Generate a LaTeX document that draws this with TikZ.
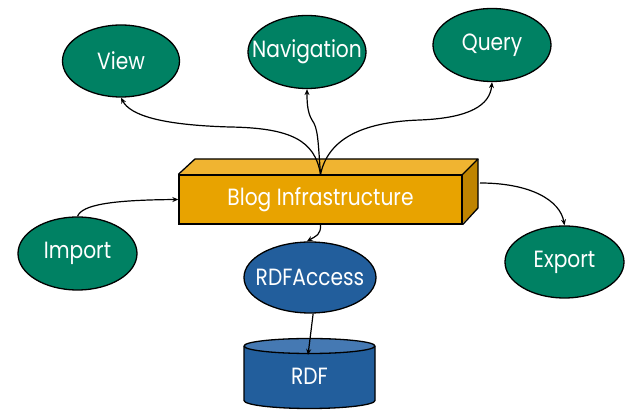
\documentclass[tikz,border=0pt]{standalone}
\usepackage{fontspec}
\setmainfont{Poppins}[FakeStretch=0.86]
\usetikzlibrary{shapes.geometric,arrows.meta}
\definecolor{ngreen}{HTML}{008163}
\definecolor{nblue}{HTML}{225E9C}
\definecolor{nbluetop}{HTML}{4579B3}
\definecolor{bfront}{HTML}{E8A300}
\definecolor{btop}{HTML}{F0B431}
\definecolor{bside}{HTML}{BF8400}
\newcommand{\zw}[1]{\makebox[0pt]{#1}}
\tikzset{
  lbl/.style={font=\fontsize{23.5}{26}\selectfont},
  comp/.style={ellipse, draw=black, line width=1.3pt, fill=ngreen, text=white,
    inner sep=0pt, lbl},
  acc/.style={comp, fill=nblue},
  conn/.style={-{Stealth[length=6pt,width=5pt]}, line width=1.2pt, black},
  edge3d/.style={draw=black, line width=1.3pt, line join=round}
}
\begin{document}
\begin{tikzpicture}[x=1pt,y=-1pt]
\useasboundingbox (0,0) rectangle (641,419);
% components
\node[comp, minimum width=117pt, minimum height=72pt] (view) at (121,61) {\zw{View}};
\node[comp, minimum width=118pt, minimum height=73pt] (nav) at (307,52) {\zw{Navigation}};
\node[comp, minimum width=118pt, minimum height=73pt] (query) at (492,45) {\zw{Query}};
\node[comp, minimum width=119pt, minimum height=73pt] (import) at (77.5,253.5) {\zw{Import}};
\node[comp, minimum width=119pt, minimum height=72pt] (export) at (564.5,262) {\zw{Export}};
\node[acc, minimum width=132pt, minimum height=71pt] (rdfaccess) at (310,277.5) {\zw{RDFAccess}};
% 3D box
\fill[btop] (179,175) -- (195,159) -- (478,159) -- (462,175) -- cycle;
\fill[bside] (462,175) -- (478,159) -- (478,208) -- (462,224) -- cycle;
\node[draw=black, line width=1.3pt, fill=bfront, text=white, minimum width=283pt,
  minimum height=49pt, inner sep=0pt, lbl] (box) at (320.5,199.5) {Blog Infrastructure};
\draw[edge3d] (box.north west) -- (195,159) -- (478,159) -- (462,175);
\draw[edge3d] (478,159) -- (478,208) -- (box.south east);
% cylinder
\fill[nblue] (244,346) -- (244,400.5) arc[start angle=180, end angle=360, x radius=65.5pt, y radius=8pt] -- (375,346) -- cycle;
\draw[edge3d] (244,346) -- (244,400.5) arc[start angle=180, end angle=360, x radius=65.5pt, y radius=8pt] -- (375,346);
\draw[edge3d, fill=nbluetop] (309.5,346) ellipse[x radius=65.5pt, y radius=7.5pt];
\node[text=white, lbl, inner sep=0pt] (rdf) at (309.5,376) {RDF};
\coordinate (rdftop) at (308,355);
\coordinate (sideout) at (480,183);
% connectors
\draw[conn] (box.north) .. controls (315,140) and (290,128) .. (230,127)
  .. controls (160,125) and (130,115) .. (view.south);
\draw[conn] (box.north) .. controls (318,140) and (318,128) .. (312,120)
  .. controls (307,112) and (307,100) .. (nav.south);
\draw[conn] (box.north) .. controls (328,140) and (360,122) .. (420,120)
  .. controls (470,118) and (490,105) .. (query.south);
\draw[conn] (import.north) .. controls (82,205) and (110,200) .. (box.west);
\draw[conn] (sideout) .. controls (530,183) and (560,200) .. (export.north);
\draw[conn] (box.south) .. controls (321,235) and (316,236) .. (rdfaccess.95);
\draw[conn] (rdfaccess.-85) -- (rdftop);
\end{tikzpicture}
\end{document}
